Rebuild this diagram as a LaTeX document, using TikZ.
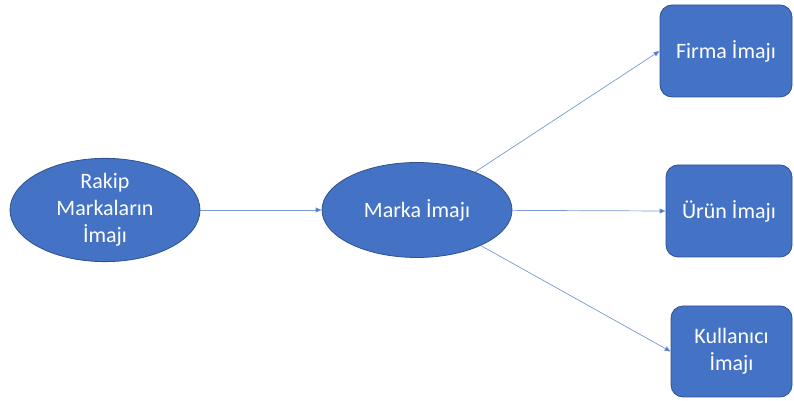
\documentclass[tikz,border=0pt]{standalone}
\usepackage{fontspec}
\setmainfont{Carlito}
\usetikzlibrary{shapes.geometric,arrows.meta}
\definecolor{fillblue}{HTML}{4472C4}
\definecolor{edgeblue}{HTML}{2F528F}
\definecolor{lineblue}{RGB}{120,152,212}
\begin{document}
\begin{tikzpicture}[x=1pt,y=1pt,
  ell/.style={ellipse,draw=edgeblue,line width=0.8pt,fill=fillblue,text=white,inner sep=0pt,
    font=\fontsize{22}{27}\selectfont,align=center},
  rbox/.style={rectangle,rounded corners=12pt,draw=edgeblue,line width=0.8pt,fill=fillblue,text=white,inner sep=0pt,
    font=\fontsize{22}{27}\selectfont,align=center},
  conn/.style={draw=lineblue,line width=0.7pt,-{Triangle[length=6pt,width=5pt,fill=fillblue]}}]
\useasboundingbox (0,0) rectangle (794,401);
\node[ell,minimum width=190pt,minimum height=95pt] (rakip) at (105,191) {Rakip\\Markaların\\İmajı};
\node[ell,minimum width=190pt,minimum height=95pt] (marka) at (417,191) {Marka İmajı};
\node[rbox,minimum width=132pt,minimum height=92pt] (firma) at (726,350) {Firma İmajı};
\node[rbox,minimum width=126pt,minimum height=92pt] (urun) at (729,190) {Ürün İmajı};
\node[rbox,minimum width=121pt,minimum height=91pt] (kul) at (731.5,49.5) {Kullanıcı\\İmajı};
\draw[conn] (rakip) -- (marka);
\draw[conn] (marka) -- (firma.west);
\draw[conn] (marka) -- (urun.west);
\draw[conn] (marka) -- (kul.west);
\end{tikzpicture}
\end{document}
